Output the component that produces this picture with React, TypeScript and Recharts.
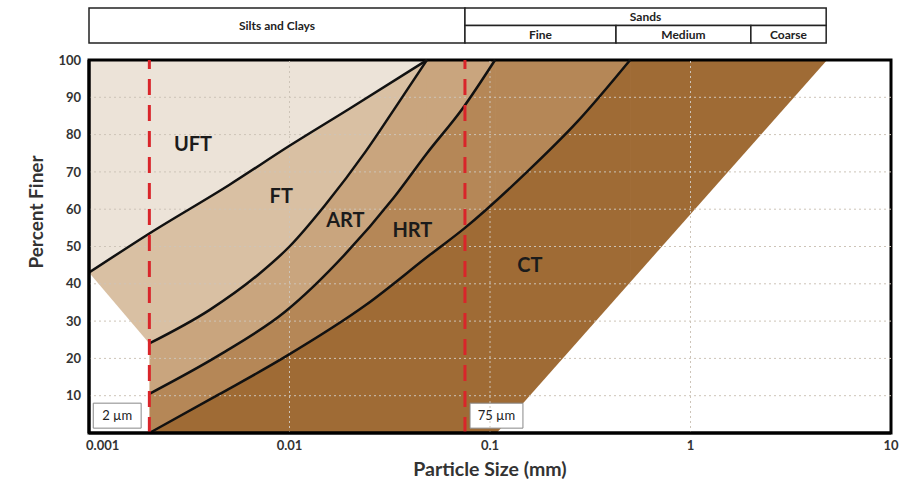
import React from 'react'
import {
  ComposedChart,
  Area,
  Line,
  XAxis,
  YAxis,
  ReferenceLine,
  ReferenceArea,
  ReferenceDot,
  Label,
} from 'recharts'

// particle size (mm) vs percent finer
const uftFtBoundary = [
  { size: 0.001, pct: 43 },
  { size: 0.002, pct: 53.5 },
  { size: 0.005, pct: 66.5 },
  { size: 0.01, pct: 77 },
  { size: 0.02, pct: 87 },
  { size: 0.0485, pct: 100 },
]
const ftArtBoundary = [
  { size: 0.002, pct: 24 },
  { size: 0.004, pct: 33 },
  { size: 0.007, pct: 42.5 },
  { size: 0.01, pct: 50 },
  { size: 0.015, pct: 61 },
  { size: 0.024, pct: 75.5 },
  { size: 0.033, pct: 86.5 },
  { size: 0.0485, pct: 100 },
]
const artHrtBoundary = [
  { size: 0.002, pct: 10.5 },
  { size: 0.0045, pct: 21 },
  { size: 0.0095, pct: 32.5 },
  { size: 0.019, pct: 48 },
  { size: 0.033, pct: 63 },
  { size: 0.0485, pct: 75 },
  { size: 0.073, pct: 87 },
  { size: 0.106, pct: 100 },
]
const hrtCtBoundary = [
  { size: 0.002, pct: 0 },
  { size: 0.0044, pct: 10.2 },
  { size: 0.0095, pct: 20.4 },
  { size: 0.024, pct: 34.3 },
  { size: 0.05, pct: 47.7 },
  { size: 0.075, pct: 55 },
  { size: 0.153, pct: 70 },
  { size: 0.272, pct: 83.4 },
  { size: 0.5, pct: 100 },
]
// outside of the envelope (white)
const envelopeLeft = [
  { size: 0.001, pct: 43 },
  { size: 0.002, pct: 24 },
]
const envelopeRight = [
  { size: 0.108, pct: 0 },
  { size: 4.8, pct: 100 },
  { size: 10, pct: 100 },
]
const X_MAX = 10

const xTicks = [0.001, 0.01, 0.1, 1, 10]
const yTicks = [10, 20, 30, 40, 50, 60, 70, 80, 90, 100]
const gridX = [0.01, 0.1, 1]
const gridY = [10, 20, 30, 40, 50, 60, 70, 80, 90]

const limits = [0.002, 0.075]

const zones = [
  { name: 'UFT', size: 0.0033, pct: 77.5 },
  { name: 'FT', size: 0.0091, pct: 63.5 },
  { name: 'ART', size: 0.019, pct: 57 },
  { name: 'HRT', size: 0.041, pct: 54.5 },
  { name: 'CT', size: 0.158, pct: 45 },
]

const headerCells = [
  { label: 'Silts and Clays', from: 0.001, to: 0.075, row: 'both' },
  { label: 'Sands', from: 0.075, to: 4.75, row: 'top' },
  { label: 'Fine', from: 0.075, to: 0.425, row: 'bottom' },
  { label: 'Medium', from: 0.425, to: 2, row: 'bottom' },
  { label: 'Coarse', from: 2, to: 4.75, row: 'bottom' },
]
const headerSpan = [
  { size: 0.001, row: 0 },
  { size: 10, row: 0 },
]

const FONT = 'Lato, "Open Sans", sans-serif'
const W = 913
const H = 484

const zoneFills = ['#d9c0a3', '#c9a57e', '#b58757', '#9f6b35']
const boundaries = [uftFtBoundary, ftArtBoundary, artHrtBoundary, hrtCtBoundary]

// flat part of each layer from where its boundary reaches 100 % to the right edge
const topRun = (b: { size: number; pct: number }[]) => [
  { size: b[b.length - 1].size, pct: 100 },
  { size: X_MAX, pct: 100 },
]

const XTick = (props: any) => {
  const { x, y, payload, index } = props
  const first = index === 0
  return (
    <text
      x={first ? x - 3 : x}
      y={y}
      dy="0.71em"
      textAnchor={first ? 'start' : 'middle'}
      fontSize={13}
      fontWeight={700}
      fill="#333"
    >
      {payload.value}
    </text>
  )
}

export default function App() {
  return (
    <div style={{ position: 'absolute', left: 0, top: 0, width: W, height: H, background: '#fff', fontFamily: FONT }}>
      <div style={{ position: 'absolute', left: 0, top: 0 }}>
        <ComposedChart width={W} height={50} data={headerSpan} margin={{ top: 8, right: 22, bottom: 7, left: 89 }}>
          <XAxis type="number" dataKey="size" scale="log" domain={[0.001, 10]} allowDataOverflow hide />
          <YAxis type="number" domain={[0, 2]} allowDataOverflow hide />
          <Line dataKey="row" stroke="none" dot={false} activeDot={false} isAnimationActive={false} />
          {headerCells.map((c) => (
            <ReferenceArea
              key={c.label}
              x1={c.from}
              x2={c.to}
              y1={c.row === 'top' ? 1 : 0}
              y2={c.row === 'bottom' ? 1 : 2}
              fill="#fff"
              fillOpacity={1}
              stroke="#222"
              strokeWidth={1.5}
              ifOverflow="visible"
              label={{ value: c.label, position: 'center', fontSize: 12, fontWeight: 700, fill: '#222' }}
            />
          ))}
        </ComposedChart>
      </div>
      <div style={{ position: 'absolute', left: 0, top: 0 }}>
        <ComposedChart width={W} height={H} margin={{ top: 60, right: 22, bottom: 0, left: 0 }}>
          <XAxis
            type="number"
            dataKey="size"
            scale="log"
            domain={[0.001, 10]}
            allowDataOverflow
            ticks={xTicks}
            interval={0}
            height={51}
            axisLine={{ stroke: '#000', strokeWidth: 3 }}
            tickLine={false}
            tick={<XTick />}
          >
            <Label
              content={() => (
                <text x={490} y={468} textAnchor="middle" dominantBaseline="central" fontSize={19.5} fontWeight={700} fill="#333">
                  Particle Size (mm)
                </text>
              )}
            />
          </XAxis>
          <YAxis
            type="number"
            dataKey="pct"
            domain={[0, 100]}
            ticks={yTicks}
            interval={0}
            width={89}
            axisLine={{ stroke: '#000', strokeWidth: 3 }}
            tickLine={false}
            tick={{ fontSize: 13, fontWeight: 700, fill: '#333' }}
          >
            <Label
              content={() => (
                <text
                  x={35}
                  y={212}
                  transform="rotate(-90 35 212)"
                  textAnchor="middle"
                  dominantBaseline="central"
                  fontSize={19}
                  fontWeight={700}
                  fill="#333"
                >
                  Percent Finer
                </text>
              )}
            />
          </YAxis>

          {/* UFT fills the whole envelope, the other zones are laid over it */}
          <Area
            data={[
              { size: 0.001, pct: 100 },
              { size: X_MAX, pct: 100 },
            ]}
            dataKey="pct"
            type="linear"
            fill="#ece3d8"
            fillOpacity={1}
            stroke="none"
            isAnimationActive={false}
          />
          {boundaries.map((b, i) => (
            <React.Fragment key={'layer' + i}>
              <Area
                data={b}
                dataKey="pct"
                type="monotone"
                fill={zoneFills[i]}
                fillOpacity={1}
                stroke="none"
                isAnimationActive={false}
              />
              <Area
                data={topRun(b)}
                dataKey="pct"
                type="linear"
                fill={zoneFills[i]}
                fillOpacity={1}
                stroke="none"
                isAnimationActive={false}
              />
            </React.Fragment>
          ))}
          <Area data={envelopeLeft} dataKey="pct" type="linear" fill="#fff" fillOpacity={1} stroke="none" isAnimationActive={false} />
          <Area data={envelopeRight} dataKey="pct" type="linear" fill="#fff" fillOpacity={1} stroke="none" isAnimationActive={false} />

          {gridY.map((v) => (
            <ReferenceLine key={'gy' + v} y={v} stroke="#cdc4b8" strokeDasharray="2 3" strokeWidth={1} />
          ))}
          {gridX.map((v) => (
            <ReferenceLine key={'gx' + v} x={v} stroke="#cdc4b8" strokeDasharray="2 3" strokeWidth={1} />
          ))}

          {boundaries.map((b, i) => (
            <Line
              key={'b' + i}
              data={b}
              dataKey="pct"
              type="monotone"
              stroke="#111"
              strokeWidth={2.5}
              dot={false}
              activeDot={false}
              isAnimationActive={false}
            />
          ))}

          {limits.map((v) => (
            <ReferenceLine key={'lim' + v} x={v} stroke="#d9252a" strokeWidth={3} strokeDasharray="16 10" />
          ))}

          <ReferenceArea
            x1={0.00105}
            x2={0.00182}
            y1={1.3}
            y2={8}
            fill="#fff"
            fillOpacity={1}
            stroke="#888"
            strokeWidth={1}
            label={{ value: '2 µm', position: 'center', fontSize: 13, fill: '#222' }}
          />
          <ReferenceArea
            x1={0.0795}
            x2={0.146}
            y1={1.3}
            y2={8}
            fill="#fff"
            fillOpacity={1}
            stroke="#888"
            strokeWidth={1}
            label={{ value: '75 µm', position: 'center', fontSize: 13, fill: '#222' }}
          />

          {zones.map((z) => (
            <ReferenceDot
              key={z.name}
              x={z.size}
              y={z.pct}
              r={0}
              fill="none"
              stroke="none"
              label={{ value: z.name, position: 'center', fontSize: 20, fontWeight: 700, fill: '#1b1b1b' }}
            />
          ))}

          <ReferenceArea x1={0.001} x2={10} y1={0} y2={100} fill="none" stroke="#000" strokeWidth={3} />
        </ComposedChart>
      </div>
    </div>
  )
}
